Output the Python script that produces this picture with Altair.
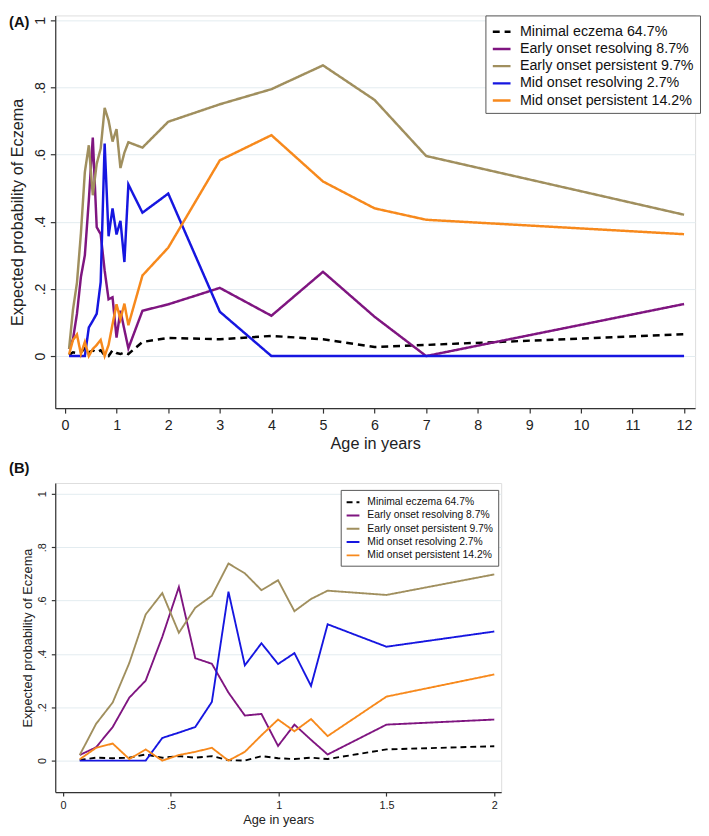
import altair as alt
import pandas as pd

FONT = "Liberation Sans"

# ---- data ----
ages = [0.077, 0.153, 0.230, 0.307, 0.383, 0.460, 0.537, 0.613, 0.690, 0.767,
        0.843, 0.920, 0.997, 1.073, 1.150, 1.227, 1.5, 2, 3, 4, 5, 6, 7, 12]

minimal = [0.003, 0.011, 0.009, 0.011, 0.023, 0.011, 0.017, 0.011, 0.017, 0.002,
           0.000, 0.017, 0.009, 0.006, 0.011, 0.006, 0.042, 0.054, 0.050, 0.060,
           0.050, 0.027, 0.033, 0.065]
early_res = [0.021, 0.050, 0.126, 0.236, 0.300, 0.464, 0.651, 0.384, 0.363, 0.255,
             0.169, 0.175, 0.055, 0.135, 0.078, 0.023, 0.135, 0.154, 0.203, 0.120,
             0.251, 0.117, 0.000, 0.155]
early_per = [0.021, 0.138, 0.218, 0.366, 0.548, 0.628, 0.479, 0.573, 0.618, 0.739,
             0.702, 0.639, 0.676, 0.560, 0.606, 0.637, 0.621, 0.698, 0.750, 0.795,
             0.866, 0.763, 0.596, 0.421]
mid_res = [0.000, 0.000, 0.000, 0.000, 0.000, 0.085, 0.105, 0.126, 0.220, 0.633,
           0.357, 0.440, 0.362, 0.403, 0.280, 0.511, 0.427, 0.484, 0.132, 0.000,
           0.000, 0.000, 0.000, 0.000]
mid_per = [0.005, 0.048, 0.064, 0.006, 0.042, 0.000, 0.021, 0.033, 0.048, 0.000,
           0.033, 0.095, 0.154, 0.110, 0.156, 0.092, 0.240, 0.323, 0.583, 0.658,
           0.520, 0.440, 0.406, 0.363]

series_names = ["Minimal eczema 64.7%", "Early onset resolving 8.7%",
                "Early onset persistent 9.7%", "Mid onset resolving 2.7%",
                "Mid onset persistent 14.2%"]
series_values = [minimal, early_res, early_per, mid_res, mid_per]
colors = ["#000000", "#7f1580", "#a08f5e", "#1616e0", "#f7891c"]
dashes_a = [[7, 5], [1, 0], [1, 0], [1, 0], [1, 0]]
dashes_b = [[6, 4], [1, 0], [1, 0], [1, 0], [1, 0]]

y_ticks = [0, 0.2, 0.4, 0.6, 0.8, 1]
x_ticks_a = [0, 1, 2, 3, 4, 5, 6, 7, 8, 9, 10, 11, 12]
x_ticks_b = [0, 0.5, 1, 1.5, 2]

rows = []
for name, vals in zip(series_names, series_values):
    for a, v in zip(ages, vals):
        rows.append({"age": a, "p": v, "series": name})
df = pd.DataFrame(rows)
df_b = df[df["age"] <= 2].reset_index(drop=True)

stata_fmt = ("datum.value == 0 ? '0' : (datum.value < 1 ? "
             "replace(format(datum.value, '.1f'), '0.', '.') : format(datum.value, '~g'))")


def panel(data, xdom, ydom, xticks, width, height, lw, dashes, fs_tick, fs_title,
          tick, lab_pad_x, lab_pad_y, title_pad_x, title_x,
          fs_leg, leg_x, leg_y, leg_sym, leg_pad, leg_off, leg_row, leg_sw,
          label, label_y):
    legend = alt.Legend(
        title=None, orient="none", legendX=leg_x, legendY=leg_y,
        direction="vertical", fillColor="white", strokeColor="#555555",
        padding=leg_pad, cornerRadius=0, labelFont=FONT, labelFontSize=fs_leg,
        labelColor="#111111", symbolType="stroke", symbolSize=leg_sym,
        symbolStrokeWidth=leg_sw, rowPadding=leg_row, labelOffset=leg_off,
        labelLimit=400,
    )
    base = alt.Chart(data).encode(
        x=alt.X("age:Q",
                scale=alt.Scale(domain=xdom, nice=False, zero=False),
                axis=alt.Axis(values=xticks, labelExpr=stata_fmt, title="Age in years",
                              grid=False, domainColor="#333333", domainWidth=1.2,
                              tickColor="#333333", tickWidth=1.2, tickSize=tick,
                              labelFont=FONT, labelFontSize=fs_tick, labelColor="#222222",
                              labelPadding=lab_pad_x, labelFlush=False, labelOverlap=False,
                              titleFont=FONT, titleFontSize=fs_title,
                              titleFontWeight="normal", titleColor="#222222",
                              titlePadding=title_pad_x)),
        y=alt.Y("p:Q",
                scale=alt.Scale(domain=ydom, nice=False, zero=False),
                axis=alt.Axis(values=y_ticks, labelExpr=stata_fmt,
                              title="Expected probability of Eczema",
                              grid=True, gridColor="#e3ecf0", gridWidth=1,
                              domainColor="#333333", domainWidth=1.2,
                              tickColor="#333333", tickWidth=1.2, tickSize=tick,
                              labelFont=FONT, labelFontSize=fs_tick, labelColor="#222222",
                              labelAngle=270, labelAlign="center", labelBaseline="bottom",
                              labelPadding=lab_pad_y, labelFlush=False, labelOverlap=False,
                              titleFont=FONT, titleFontSize=fs_title,
                              titleFontWeight="normal", titleColor="#222222",
                              titleX=title_x, titleY=height / 2)),
        color=alt.Color("series:N", scale=alt.Scale(domain=series_names, range=colors),
                        legend=legend),
        strokeDash=alt.StrokeDash("series:N",
                                  scale=alt.Scale(domain=series_names, range=dashes),
                                  legend=legend),
    )
    lines = base.mark_line(strokeWidth=lw, clip=True)
    tag = alt.Chart(pd.DataFrame({"t": [label]})).mark_text(
        align="left", baseline="top", fontWeight="bold", fontSize=15, font=FONT,
        color="#111111"
    ).encode(text="t:N", x=alt.value(-47), y=alt.value(label_y))
    return alt.layer(lines, tag).properties(width=width, height=height)


panel_a = panel(df, [-0.1908, 12.214], [-0.1554, 1.0147], x_ticks_a, 650, 399,
                2.5, dashes_a, 14.5, 16.5, 5, 6, 3, 3, -30,
                14.5, 437, 0, 324, 6, 8, 0.5, 2.5, "(A)", 0)
panel_b = panel(df_b, [-0.0365, 2.032], [-0.118, 1.0406], x_ticks_b, 453, 314,
                1.9, dashes_b, 11, 13, 4, 4, 4, 3, -21,
                10.5, 290, 7, 169, 5, 7, 0.5, 2, "(B)", -22)

chart = alt.vconcat(panel_a, panel_b, spacing=8).resolve_scale(
    color="independent", strokeDash="independent"
).resolve_legend(
    color="independent", strokeDash="independent"
).properties(
    padding={"left": 0, "top": 0, "right": 0, "bottom": 0}
).configure_view(stroke=None).configure(background="white")

chart.save("out.html", embed_options={"renderer": "svg", "actions": False})
